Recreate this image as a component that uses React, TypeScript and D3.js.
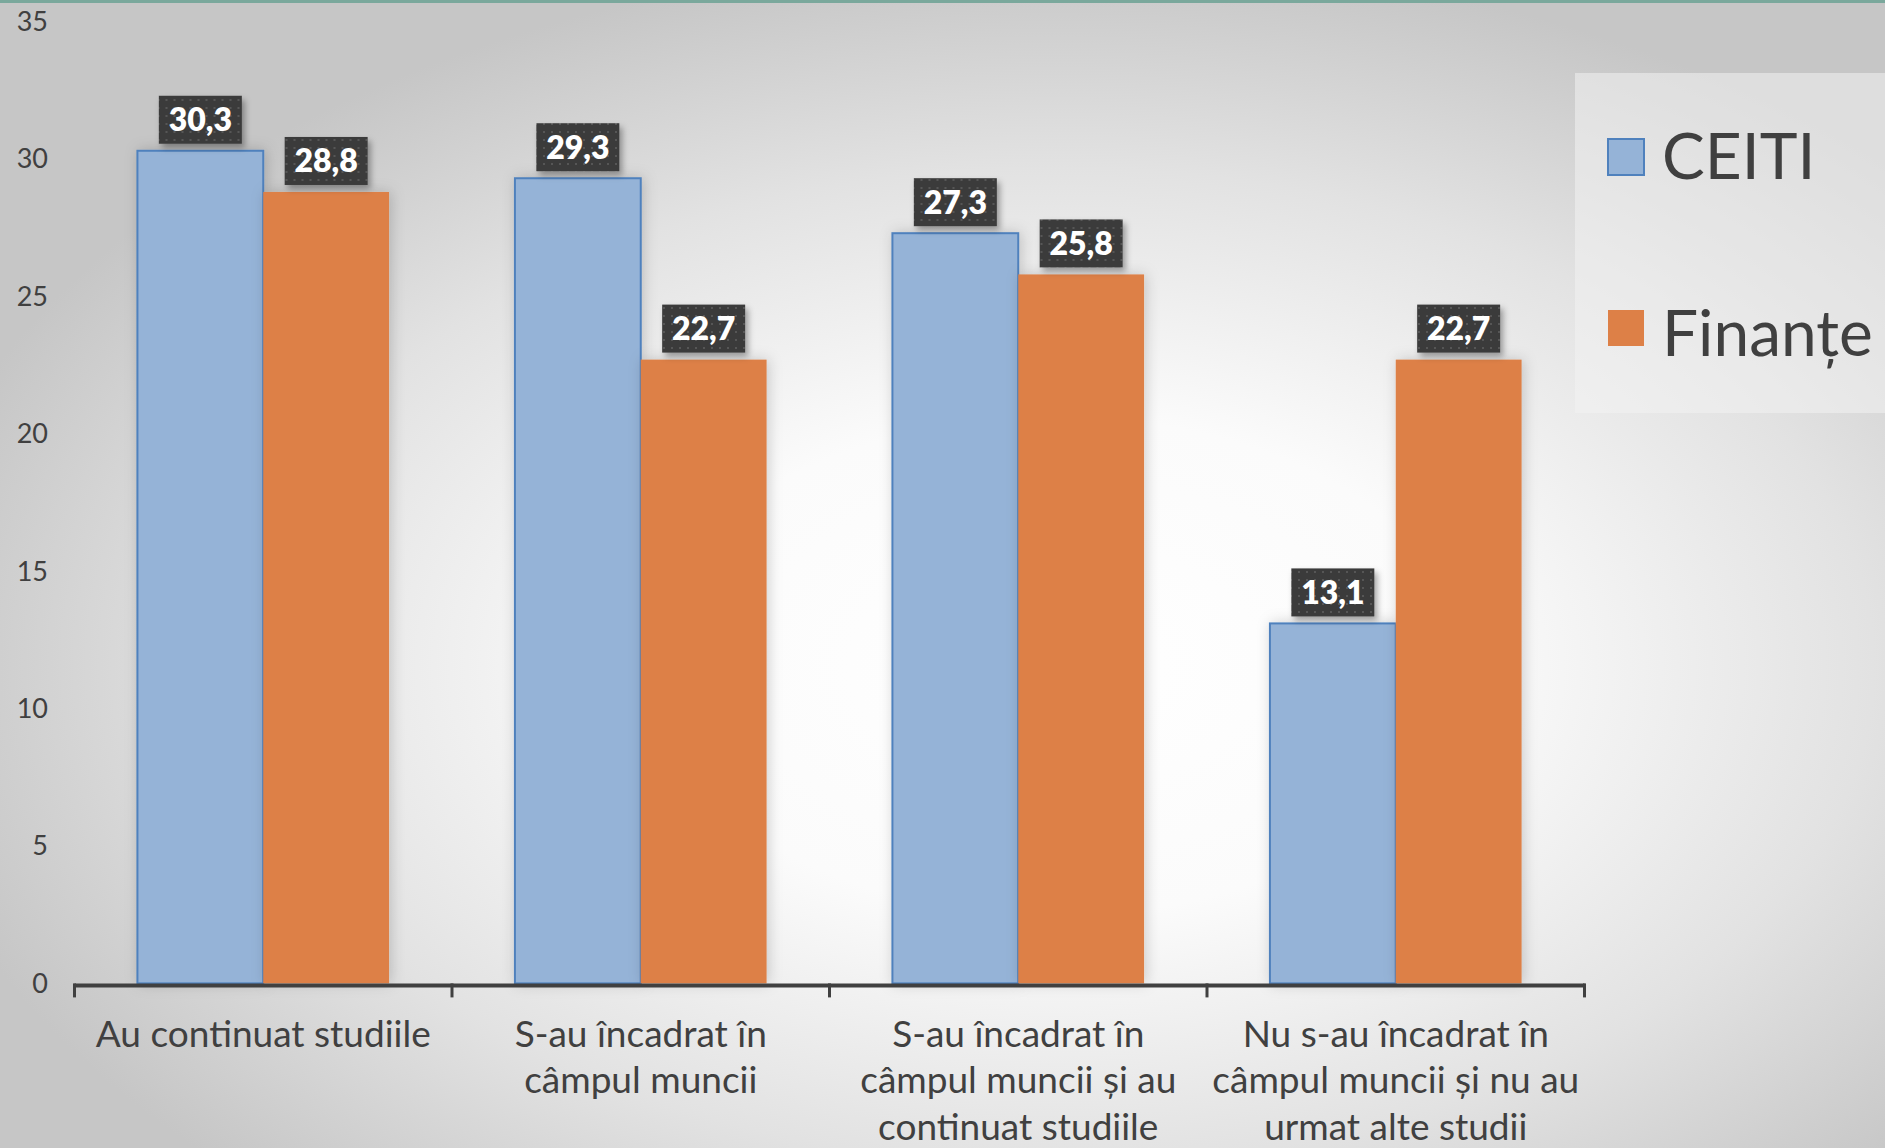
import React from "react";
import * as d3 from "d3";

const categories: string[][] = [
  ["Au continuat studiile"],
  ["S-au încadrat în", "câmpul muncii"],
  ["S-au încadrat în", "câmpul muncii și au", "continuat studiile"],
  ["Nu s-au încadrat în", "câmpul muncii și nu au", "urmat alte studii"],
];
const categoryKeys = ["c1", "c2", "c3", "c4"];
const seriesNames = ["CEITI", "Finanțe"];
const ceiti = [30.3, 29.3, 27.3, 13.1];
const finante = [28.8, 22.7, 25.8, 22.7];
const yTicks = [0, 5, 10, 15, 20, 25, 30, 35];

const W = 1885;
const H = 1148;
const FONT = "Lato, 'Noto Sans', sans-serif";
const TEXT = "#404040";
const FILLS = ["#95b3d7", "#dd8047"];
const STROKES = ["#4f81bd", "#dd8047"];

export default function App() {
  const x = d3.scaleBand<string>().domain(categoryKeys).range([74.5, 1584.5]).padding(0);
  const bw = x.bandwidth();
  const xs = d3.scaleBand<string>().domain(seriesNames).range([bw / 6, (bw * 5) / 6]).padding(0);
  const y = d3.scaleLinear().domain([0, 35]).range([983.4, 21.6]);
  const series = [ceiti, finante];
  const y0 = y(0);
  const boxW = 83;
  const boxH = 48;

  return (
    <svg width={W} height={H} style={{ position: "absolute", left: 0, top: 0, display: "block" }}>
      <defs>
        <radialGradient id="bg" cx="0.56" cy="0.58" r="0.62" fx="0.56" fy="0.58">
          <stop offset="0" stopColor="#ffffff" />
          <stop offset="0.35" stopColor="#fbfbfb" />
          <stop offset="0.7" stopColor="#e2e2e2" />
          <stop offset="1" stopColor="#c6c6c6" />
        </radialGradient>
        <pattern id="dots" width="8" height="8" patternUnits="userSpaceOnUse">
          <rect width="8" height="8" fill="#3b3b3b" />
          <rect x="3" y="3" width="2" height="2" fill="#575757" />
        </pattern>
        <filter id="boxShadow" x="-30%" y="-30%" width="160%" height="170%">
          <feDropShadow dx="3" dy="4" stdDeviation="3" floodColor="#000" floodOpacity="0.35" />
        </filter>
        <filter id="barShadow" x="-20%" y="-10%" width="140%" height="120%">
          <feDropShadow dx="2" dy="0" stdDeviation="7" floodColor="#000" floodOpacity="0.18" />
        </filter>
      </defs>
      <rect x={0} y={0} width={W} height={H} fill="url(#bg)" />
      <rect x={0} y={0} width={W} height={3} fill="#7aa89c" />

      {/* legend box */}
      <rect x={1575} y={73} width={W - 1575} height={340} fill="#f2f2f2" opacity={0.55} />

      {/* y tick labels */}
      {yTicks.map((t) => (
        <text
          key={t}
          x={48}
          y={y(t)}
          dy="0.35em"
          textAnchor="end"
          fontFamily={FONT}
          fontSize={27}
          fill={TEXT}
        >
          {t}
        </text>
      ))}

      {/* bars */}
      {categoryKeys.map((k, i) => (
        <g key={k} transform={`translate(${x(k)},0)`}>
          {seriesNames.map((s, j) => {
            const v = series[j][i];
            const bx = xs(s)!;
            const by = y(v);
            return (
              <rect
                key={s}
                x={bx}
                y={by}
                width={xs.bandwidth()}
                height={y0 - by}
                fill={FILLS[j]}
                stroke={STROKES[j]}
                strokeWidth={j === 0 ? 2 : 0}
                filter="url(#barShadow)"
              />
            );
          })}
        </g>
      ))}

      {/* data labels */}
      {categoryKeys.map((k, i) => (
        <g key={k + "l"} transform={`translate(${x(k)},0)`}>
          {seriesNames.map((s, j) => {
            const v = series[j][i];
            const cx = xs(s)! + xs.bandwidth() / 2;
            const by = y(v) - 7;
            return (
              <g key={s}>
                <rect
                  x={cx - boxW / 2}
                  y={by - boxH}
                  width={boxW}
                  height={boxH}
                  fill="url(#dots)"
                  filter="url(#boxShadow)"
                />
                <text
                  x={cx}
                  y={by - boxH / 2}
                  dy="0.36em"
                  textAnchor="middle"
                  fontFamily={FONT}
                  fontWeight={800}
                  fontSize={32}
                  fill="#ffffff"
                >
                  {v.toFixed(1).replace(".", ",")}
                </text>
              </g>
            );
          })}
        </g>
      ))}

      {/* x axis */}
      <line x1={74.5} x2={1584.5} y1={y0 + 2} y2={y0 + 2} stroke="#404040" strokeWidth={4} />
      {categoryKeys.concat(["end"]).map((k, i) => {
        const tx = i < categoryKeys.length ? x(k)! : 1584.5;
        return (
          <line key={"t" + k} x1={tx} x2={tx} y1={y0} y2={y0 + 14} stroke="#404040" strokeWidth={3} />
        );
      })}

      {/* category labels */}
      {categoryKeys.map((k, i) => (
        <text
          key={"c" + k}
          x={x(k)! + bw / 2}
          textAnchor="middle"
          fontFamily={FONT}
          fontSize={37}
          fill={TEXT}
        >
          {categories[i].map((line, li) => (
            <tspan key={li} x={x(k)! + bw / 2} y={1034 + li * 46.5} dy="0.35em">
              {line}
            </tspan>
          ))}
        </text>
      ))}

      {/* legend */}
      {seriesNames.map((s, j) => (
        <g key={"lg" + s}>
          <rect
            x={1608}
            y={j === 0 ? 139 : 310}
            width={36}
            height={36}
            fill={FILLS[j]}
            stroke={STROKES[j]}
            strokeWidth={j === 0 ? 2 : 0}
          />
          <text
            x={1662}
            y={j === 0 ? 179 : 356}
            fontFamily={FONT}
            fontSize={64}
            fill={TEXT}
          >
            {s}
          </text>
        </g>
      ))}
    </svg>
  );
}
